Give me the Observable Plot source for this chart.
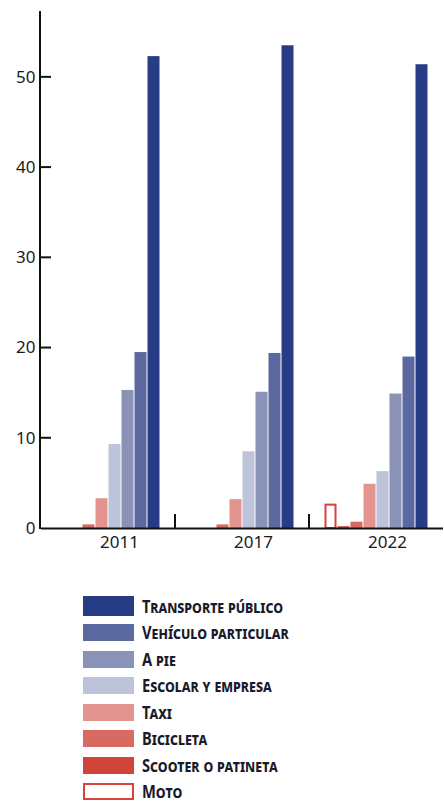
<!DOCTYPE html>
<html>
<head>
<meta charset="utf-8">
<script src="https://cdn.jsdelivr.net/npm/d3@7"></script>
<script src="https://cdn.jsdelivr.net/npm/@observablehq/plot@0.6"></script>
<style>
  html, body { margin: 0; padding: 0; background: #fff; overflow: hidden; }
  #chart svg { display: block; }
  .legend { margin-top: 23px; padding-left: 83px; font-family: "Noto Sans", sans-serif; }
  .item { display: flex; align-items: center; height: 26.5px; }
  .sw { width: 51px; height: 17px; box-sizing: border-box; margin-right: 8px; flex: none; }
  .item:first-child .sw { height: 20px; }
  .lab { display: inline-block; font-weight: 700; font-variant: small-caps; font-size: 17.5px; line-height: 15px; color: #1a1a2a; white-space: nowrap; transform: scaleX(0.84); transform-origin: left center; }
</style>
</head>
<body>
<div id="chart"></div>
<div class="legend" id="legend"></div>
<script>
const years = ["2011", "2017", "2022"];
const modes = ["Transporte público", "Vehículo particular", "A pie", "Escolar y empresa", "Taxi", "Bicicleta", "Scooter o patineta", "Moto"];
const transporte = [52.3, 53.5, 51.4];
const vehiculo = [19.5, 19.4, 19.0];
const apie = [15.3, 15.1, 14.9];
const escolar = [9.3, 8.5, 6.3];
const taxi = [3.3, 3.2, 4.9];
const bicicleta = [0.4, 0.4, 0.7];
const scooter = [null, null, 0.2];
const moto = [null, null, 2.7];
const yTicks = [0, 10, 20, 30, 40, 50];
const colors = ["#263d85", "#5b69a0", "#8a92b8", "#bdc3d8", "#e4948f", "#d86a62", "#d1443a", "#ffffff"];
const motoStroke = "#d6443a";

const series = [transporte, vehiculo, apie, escolar, taxi, bicicleta, scooter, moto];
const table = years.flatMap((year, i) => modes.map((mode, j) => ({year, mode, value: series[j][i]})))
  .filter(d => d.value != null);

const plot = Plot.plot({
  width: 444,
  height: 570,
  marginLeft: 40,
  marginRight: 0,
  marginTop: 11,
  marginBottom: 42,
  style: {fontFamily: "Noto Sans, sans-serif", fontSize: "16px", color: "#1a1a1a", background: "#fff"},
  fx: {domain: years, padding: 0, label: null},
  x: {domain: modes.slice().reverse(), paddingInner: 0, paddingOuter: 1, axis: null},
  y: {domain: [0, 57.3], axis: null},
  color: {domain: modes, range: colors},
  marks: [
    Plot.barY(table.filter(d => d.mode !== "Moto"), {fx: "year", x: "mode", y: "value", fill: "mode", insetLeft: 0.5, insetRight: 0.5}),
    Plot.barY(table.filter(d => d.mode === "Moto"), {fx: "year", x: "mode", y: "value", fill: "#fff", stroke: motoStroke, strokeWidth: 2, insetLeft: 1.5, insetRight: 1.5, insetTop: 1}),
    Plot.ruleY([0], {stroke: "#111", strokeWidth: 2}),
    Plot.axisY({ticks: yTicks, tickSize: 0, tickPadding: 6, fontSize: 17, label: null}),
    Plot.axisFx({anchor: "bottom", tickSize: 0, tickPadding: 7, fontSize: 17, dx: 11, label: null})
  ]
});
document.getElementById("chart").appendChild(plot);

// axis line, inward ticks and group separators from the plot's own scales
const svg = d3.select(plot);
const ys = plot.scale("y");
const y0 = ys.apply(0);
const yTop = Math.min(...ys.range);
const xLeft = 40;
const g = svg.append("g").attr("stroke", "#111").attr("stroke-width", 2);
g.append("line").attr("x1", xLeft).attr("x2", xLeft).attr("y1", y0 + 1).attr("y2", yTop);
yTicks.filter(t => t > 0).forEach(t => {
  g.append("line").attr("x1", xLeft).attr("x2", xLeft + 11).attr("y1", ys.apply(t)).attr("y2", ys.apply(t));
});
let fxs = null;
try { fxs = plot.scale("fx"); } catch (e) {}
years.slice(1).forEach((yr, i) => {
  const x = fxs ? fxs.apply(yr) : xLeft + (i + 1) * (444 - xLeft) / 3;
  g.append("line").attr("x1", x).attr("x2", x).attr("y1", y0).attr("y2", y0 - 14);
});

// legend
const legend = document.getElementById("legend");
modes.forEach((m, i) => {
  const item = document.createElement("div");
  item.className = "item";
  const sw = document.createElement("div");
  sw.className = "sw";
  if (m === "Moto") { sw.style.background = "#fff"; sw.style.border = "2px solid " + motoStroke; }
  else sw.style.background = colors[i];
  const lab = document.createElement("span");
  lab.className = "lab";
  lab.textContent = m;
  item.appendChild(sw); item.appendChild(lab);
  legend.appendChild(item);
});
</script>
</body>
</html>
